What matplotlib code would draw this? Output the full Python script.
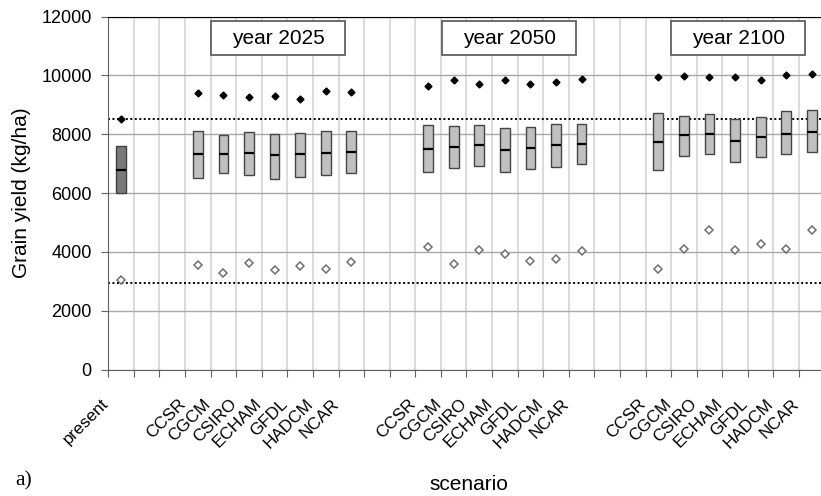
import numpy as np
import matplotlib
matplotlib.use("Agg")
from matplotlib import pyplot as plt
from matplotlib.patches import Rectangle
from matplotlib.transforms import offset_copy

plt.rcParams['font.family'] = ['Liberation Sans', 'DejaVu Sans']

models = ['CCSR', 'CGCM', 'CSIRO', 'ECHAM', 'GFDL', 'HADCM', 'NCAR']
years = ['year 2025', 'year 2050', 'year 2100']

# present
present_low, present_med, present_high = 6000, 6770, 7590
present_max, present_min = 8500, 3050

# box bottom / median / top, max and min markers for each period
low_2025 = [6520, 6680, 6620, 6490, 6550, 6600, 6680]
med_2025 = [7330, 7330, 7370, 7280, 7310, 7370, 7400]
high_2025 = [8110, 7970, 8070, 8000, 8030, 8100, 8110]
max_2025 = [9400, 9340, 9280, 9290, 9200, 9480, 9450]
min_2025 = [3550, 3270, 3620, 3370, 3530, 3430, 3670]

low_2050 = [6710, 6850, 6920, 6710, 6800, 6880, 6970]
med_2050 = [7500, 7570, 7620, 7470, 7540, 7630, 7650]
high_2050 = [8310, 8270, 8310, 8200, 8240, 8330, 8360]
max_2050 = [9630, 9830, 9710, 9850, 9710, 9770, 9890]
min_2050 = [4160, 3580, 4060, 3940, 3680, 3750, 4020]

low_2100 = [6770, 7250, 7320, 7060, 7240, 7320, 7410]
med_2100 = [7740, 7960, 8000, 7780, 7910, 8020, 8090]
high_2100 = [8710, 8630, 8680, 8520, 8590, 8780, 8810]
max_2100 = [9930, 9970, 9960, 9960, 9850, 10000, 10030]
min_2100 = [3400, 4110, 4750, 4060, 4270, 4090, 4750]

# reference levels (dotted lines)
ref_levels = [8500, 2950]

fig = plt.figure(figsize=(8.21, 4.96), dpi=100)
W, H = 821, 496
ax = fig.add_axes([108.3 / W, (H - 369.5) / H, (824.6 - 108.3) / W, (369.5 - 16.5) / H])

# category positions: present at 0, groups start at 3, 12, 21
starts = [3, 12, 21]
lows = [low_2025, low_2050, low_2100]
meds = [med_2025, med_2050, med_2100]
highs = [high_2025, high_2050, high_2100]
maxs = [max_2025, max_2050, max_2100]
mins = [min_2025, min_2050, min_2100]

bw = 0.38
ax.bar(0, present_high - present_low, bottom=present_low, width=bw,
       color='#7a7a7a', edgecolor='#404040', linewidth=1.0, zorder=3)
ax.hlines(present_med, -bw / 2, bw / 2, color='black', lw=1.6, zorder=4)
ax.plot(0, present_max, 'D', ms=3.5, color='black', zorder=4)
ax.plot(0, present_min, 'D', ms=4.2, mfc='white', mec='#707070', mew=1.1, zorder=4)

for s, lo, md, hi, mx, mn in zip(starts, lows, meds, highs, maxs, mins):
    x = np.arange(s, s + len(models))
    lo = np.array(lo); hi = np.array(hi)
    ax.bar(x, hi - lo, bottom=lo, width=bw, color='#c0c0c0',
           edgecolor='#454545', linewidth=1.0, zorder=3)
    ax.hlines(md, x - bw / 2, x + bw / 2, color='black', lw=1.6, zorder=4)
    ax.plot(x, mx, 'D', ms=3.5, color='black', ls='none', zorder=4)
    ax.plot(x, mn, 'D', ms=4.2, mfc='white', mec='#707070', mew=1.1, ls='none', zorder=4)

for lvl in ref_levels:
    ax.axhline(lvl, color='black', lw=1.4, ls=(0, (1, 1.3)), zorder=2)

ax.set_xlim(-0.5, 27.5)
ax.set_ylim(0, 12000)
ax.set_yticks(np.arange(0, 12001, 2000))
ax.tick_params(axis='y', labelsize=13, length=5, color='#606060', pad=7)
ax.set_xticks(np.arange(-0.5, 28, 1))
ax.set_xticklabels([])
ax.tick_params(axis='x', length=5, color='#606060')
ax.grid(axis='y', color='#a8a8a8', lw=1.0, zorder=0)
ax.grid(axis='x', color='#d8d8d8', lw=1.3, zorder=0)
ax.set_axisbelow(True)
ax.spines['right'].set_visible(False)
ax.spines['top'].set_color('black')
ax.spines['left'].set_color('#606060')
ax.spines['bottom'].set_color('#606060')

# rotated category labels
trans = offset_copy(ax.get_xaxis_transform(), fig=fig, x=-15, y=-32, units='dots')
ax.text(0, 0, 'present', transform=trans, rotation=45, rotation_mode='anchor',
        ha='right', va='center', fontsize=12.3)
for s in starts:
    for i, m in enumerate(models):
        ax.text(s + i, 0, m, transform=trans, rotation=45, rotation_mode='anchor',
                ha='right', va='center', fontsize=12.3)

# year boxes
box_x = [3.51, 12.55, 21.5]
for bx, label in zip(box_x, years):
    ax.add_patch(Rectangle((bx, 10690), 5.25, 1150, facecolor='white',
                           edgecolor='#606060', lw=1.3, zorder=5))
    ax.text(bx + 2.625, 11265, label, ha='center', va='center', fontsize=15, zorder=6)

ax.set_ylabel('Grain yield (kg/ha)', fontsize=15)
ax.yaxis.set_label_coords(-0.108, 0.5)
fig.text(469 / W, 1 - 485 / H, 'scenario', ha='center', va='center', fontsize=15)
fig.text(15 / W, 1 - 481 / H, 'a)', ha='left', va='center', fontsize=15.5,
         family='Liberation Serif')

plt.savefig('out.png', dpi=100)
